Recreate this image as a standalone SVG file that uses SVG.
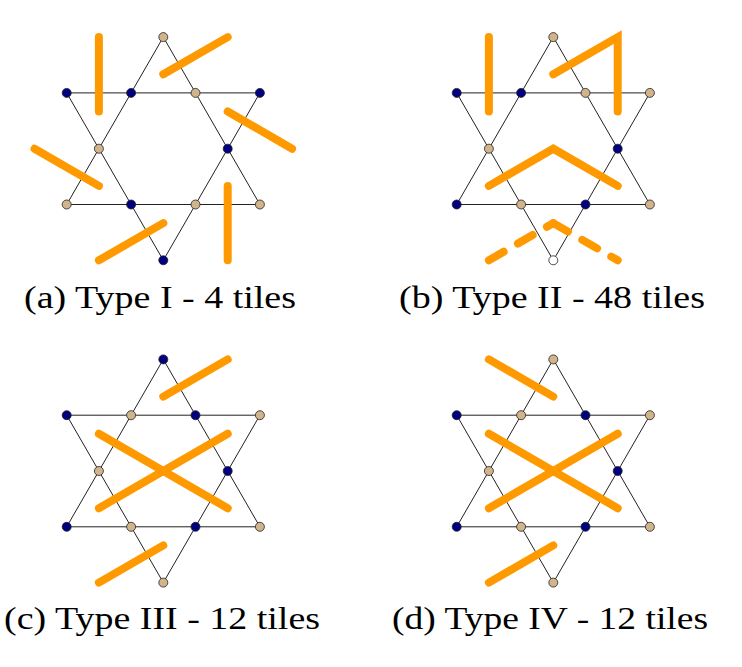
<svg xmlns="http://www.w3.org/2000/svg" xmlns:xlink="http://www.w3.org/1999/xlink" width="742" height="667" viewBox="0 0 742 667">
<style>
.edge{fill:none;stroke:#222;stroke-width:1}
.tile{fill:none;stroke:#ff9900;stroke-width:8;stroke-linecap:round;stroke-linejoin:miter}
.dash{stroke-dasharray:17 16.5}
.n{stroke:#222;stroke-width:0.8}
.nv{fill:#000080}
.tn{fill:#d2b48c}
.wh{fill:#ffffff}
.lbl{font-family:"Liberation Serif","Times New Roman",serif;font-size:32px;fill:#000}
</style>
<defs>
<g id="star">
<polygon class="edge" points="0,-111.6 -96.6,55.8 96.6,55.8"/>
<polygon class="edge" points="-96.6,-55.8 96.6,-55.8 0,111.6"/>
</g>
</defs>

<!-- Panel (a) -->
<g id="panel-a" transform="translate(163.3,148.7)">
<use xlink:href="#star"/>
<g id="a-tiles">
<path class="tile" d="M-64.4,-111.6 L-64.4,-37.2"/>
<path class="tile" d="M0,-74.4 L64.4,-111.6"/>
<path class="tile" d="M64.4,-37.2 L128.8,0"/>
<path class="tile" d="M-128.8,0 L-64.4,37.2"/>
<path class="tile" d="M-64.4,111.6 L0,74.4"/>
<path class="tile" d="M64.4,37.2 L64.4,111.6"/>
</g>
<g id="a-n1"><circle class="n tn" cx="0" cy="-111.6" r="4.5"/></g>
<g id="a-n2"><circle class="n nv" cx="-96.6" cy="-55.8" r="4.5"/></g>
<g id="a-n3"><circle class="n nv" cx="-32.2" cy="-55.8" r="4.5"/></g>
<g id="a-n4"><circle class="n tn" cx="32.2" cy="-55.8" r="4.5"/></g>
<g id="a-n5"><circle class="n nv" cx="96.6" cy="-55.8" r="4.5"/></g>
<g id="a-n6"><circle class="n tn" cx="-64.4" cy="0" r="4.5"/></g>
<g id="a-n7"><circle class="n nv" cx="64.4" cy="0" r="4.5"/></g>
<g id="a-n8"><circle class="n tn" cx="-96.6" cy="55.8" r="4.5"/></g>
<g id="a-n9"><circle class="n nv" cx="-32.2" cy="55.8" r="4.5"/></g>
<g id="a-n10"><circle class="n tn" cx="32.2" cy="55.8" r="4.5"/></g>
<g id="a-n11"><circle class="n tn" cx="96.6" cy="55.8" r="4.5"/></g>
<g id="a-n12"><circle class="n nv" cx="0" cy="111.6" r="4.5"/></g>
</g>

<!-- Panel (b) -->
<g id="panel-b" transform="translate(553.3,148.7)">
<use xlink:href="#star"/>
<g id="b-tiles">
<path class="tile" d="M-64.4,-111.6 L-64.4,-37.2"/>
<path class="tile" d="M0,-74.4 L64.4,-111.6 L64.4,-37.2"/>
<path class="tile" d="M-64.4,37.2 L0,0 L64.4,37.2"/>
<path class="tile dash" d="M-64.4,111.6 L0,74.4"/>
<path class="tile dash" d="M0,74.4 L64.4,111.6"/>
</g>
<g id="b-n1"><circle class="n tn" cx="0" cy="-111.6" r="4.5"/></g>
<g id="b-n2"><circle class="n nv" cx="-96.6" cy="-55.8" r="4.5"/></g>
<g id="b-n3"><circle class="n nv" cx="-32.2" cy="-55.8" r="4.5"/></g>
<g id="b-n4"><circle class="n tn" cx="32.2" cy="-55.8" r="4.5"/></g>
<g id="b-n5"><circle class="n tn" cx="96.6" cy="-55.8" r="4.5"/></g>
<g id="b-n6"><circle class="n tn" cx="-64.4" cy="0" r="4.5"/></g>
<g id="b-n7"><circle class="n nv" cx="64.4" cy="0" r="4.5"/></g>
<g id="b-n8"><circle class="n nv" cx="-96.6" cy="55.8" r="4.5"/></g>
<g id="b-n9"><circle class="n tn" cx="-32.2" cy="55.8" r="4.5"/></g>
<g id="b-n10"><circle class="n nv" cx="32.2" cy="55.8" r="4.5"/></g>
<g id="b-n11"><circle class="n tn" cx="96.6" cy="55.8" r="4.5"/></g>
<g id="b-n12"><circle class="n wh" cx="0" cy="111.6" r="4.5"/></g>
</g>

<!-- Panel (c) -->
<g id="panel-c" transform="translate(163.3,471)">
<use xlink:href="#star"/>
<g id="c-tiles">
<path class="tile" d="M0,-74.4 L64.4,-111.6"/>
<path class="tile" d="M-64.4,-37.2 L64.4,37.2"/>
<path class="tile" d="M-64.4,37.2 L64.4,-37.2"/>
<path class="tile" d="M-64.4,111.6 L0,74.4"/>
</g>
<g id="c-n1"><circle class="n nv" cx="0" cy="-111.6" r="4.5"/></g>
<g id="c-n2"><circle class="n nv" cx="-96.6" cy="-55.8" r="4.5"/></g>
<g id="c-n3"><circle class="n tn" cx="-32.2" cy="-55.8" r="4.5"/></g>
<g id="c-n4"><circle class="n nv" cx="32.2" cy="-55.8" r="4.5"/></g>
<g id="c-n5"><circle class="n tn" cx="96.6" cy="-55.8" r="4.5"/></g>
<g id="c-n6"><circle class="n tn" cx="-64.4" cy="0" r="4.5"/></g>
<g id="c-n7"><circle class="n nv" cx="64.4" cy="0" r="4.5"/></g>
<g id="c-n8"><circle class="n nv" cx="-96.6" cy="55.8" r="4.5"/></g>
<g id="c-n9"><circle class="n tn" cx="-32.2" cy="55.8" r="4.5"/></g>
<g id="c-n10"><circle class="n nv" cx="32.2" cy="55.8" r="4.5"/></g>
<g id="c-n11"><circle class="n tn" cx="96.6" cy="55.8" r="4.5"/></g>
<g id="c-n12"><circle class="n tn" cx="0" cy="111.6" r="4.5"/></g>
</g>

<!-- Panel (d) -->
<g id="panel-d" transform="translate(553.3,471)">
<use xlink:href="#star"/>
<g id="d-tiles">
<path class="tile" d="M-64.4,-111.6 L0,-74.4"/>
<path class="tile" d="M-64.4,-37.2 L64.4,37.2"/>
<path class="tile" d="M-64.4,37.2 L64.4,-37.2"/>
<path class="tile" d="M-64.4,111.6 L0,74.4"/>
</g>
<g id="d-n1"><circle class="n tn" cx="0" cy="-111.6" r="4.5"/></g>
<g id="d-n2"><circle class="n nv" cx="-96.6" cy="-55.8" r="4.5"/></g>
<g id="d-n3"><circle class="n tn" cx="-32.2" cy="-55.8" r="4.5"/></g>
<g id="d-n4"><circle class="n nv" cx="32.2" cy="-55.8" r="4.5"/></g>
<g id="d-n5"><circle class="n tn" cx="96.6" cy="-55.8" r="4.5"/></g>
<g id="d-n6"><circle class="n tn" cx="-64.4" cy="0" r="4.5"/></g>
<g id="d-n7"><circle class="n nv" cx="64.4" cy="0" r="4.5"/></g>
<g id="d-n8"><circle class="n nv" cx="-96.6" cy="55.8" r="4.5"/></g>
<g id="d-n9"><circle class="n tn" cx="-32.2" cy="55.8" r="4.5"/></g>
<g id="d-n10"><circle class="n nv" cx="32.2" cy="55.8" r="4.5"/></g>
<g id="d-n11"><circle class="n tn" cx="96.6" cy="55.8" r="4.5"/></g>
<g id="d-n12"><circle class="n tn" cx="0" cy="111.6" r="4.5"/></g>
</g>

<g id="labels">
<text class="lbl" x="24" y="308" textLength="272" lengthAdjust="spacingAndGlyphs">(a) Type I - 4 tiles</text>
<text class="lbl" x="399" y="308" textLength="306" lengthAdjust="spacingAndGlyphs">(b) Type II - 48 tiles</text>
<text class="lbl" x="4" y="629" textLength="316" lengthAdjust="spacingAndGlyphs">(c) Type III - 12 tiles</text>
<text class="lbl" x="392" y="629" textLength="316" lengthAdjust="spacingAndGlyphs">(d) Type IV - 12 tiles</text>
</g>
</svg>
